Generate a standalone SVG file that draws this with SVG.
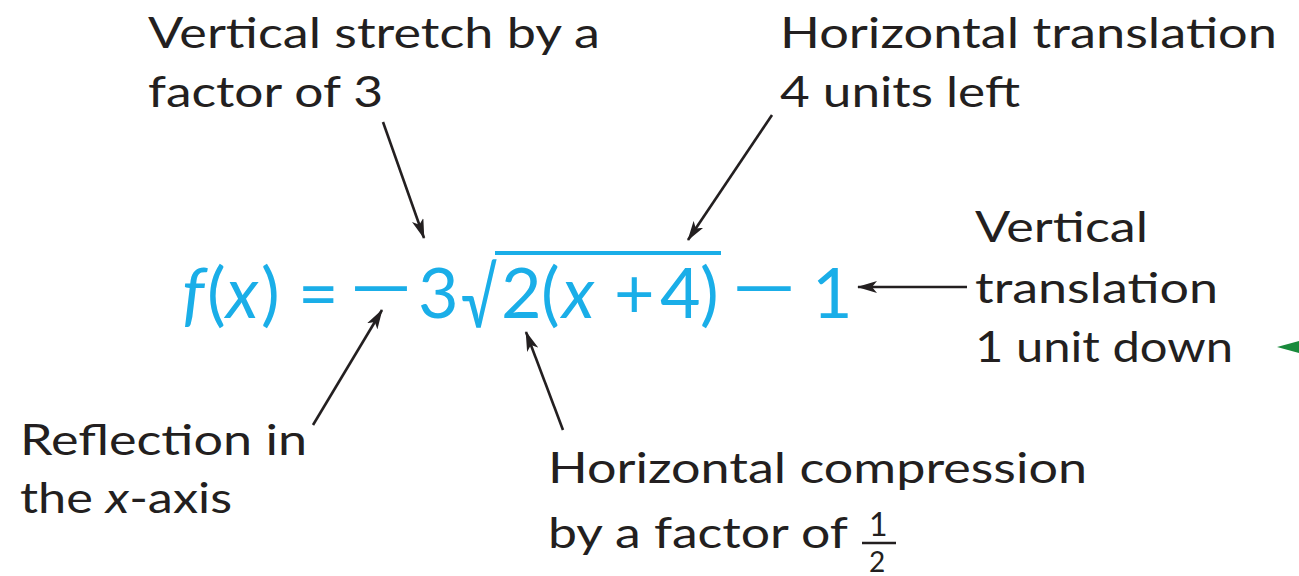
<svg xmlns="http://www.w3.org/2000/svg" width="1299" height="576" viewBox="0 0 1299 576">
<defs>
<style>
.lbl{font-family:Lato,"Open Sans","Liberation Sans",sans-serif;font-size:42px;fill:#231f20}
.eq{font-family:Lato,"Open Sans","Liberation Sans",sans-serif;font-size:70px;fill:#1aaee8}
.it{font-style:italic}
.arr{stroke:#231f20;stroke-width:2.6;fill:none}
</style>
<marker id="ah" viewBox="0 0 20 12" refX="19" refY="6" markerWidth="20" markerHeight="12" markerUnits="userSpaceOnUse" orient="auto">
<path d="M0,0 L20,6 L0,12 L5,6 Z" fill="#231f20"/>
</marker>
</defs>
<rect width="1299" height="576" fill="#ffffff"/>

<g id="equation">
<text class="eq it" x="182" y="318">f</text>
<text class="eq" x="207" y="318">(</text>
<text class="eq it" x="226" y="318">x</text>
<text class="eq" x="261" y="318">)</text>
<text class="eq" x="298" y="318">=</text>
<text class="eq" x="346" y="312" textLength="70" lengthAdjust="spacingAndGlyphs">−</text>
<text class="eq" x="418" y="318">3</text>
<text class="eq" x="461" y="328" textLength="36" lengthAdjust="spacingAndGlyphs" style="font-size:80px">√</text>
<line x1="495" y1="253" x2="721" y2="253" stroke="#1aaee8" stroke-width="4"/>
<text class="eq" x="501" y="318">2</text>
<text class="eq" x="541" y="318">(</text>
<text class="eq it" x="562" y="318">x</text>
<text class="eq" x="614" y="318">+</text>
<text class="eq" x="660" y="318">4</text>
<text class="eq" x="700" y="318">)</text>
<text class="eq" x="728" y="312" textLength="72" lengthAdjust="spacingAndGlyphs">−</text>
<text class="eq" x="812" y="318">1</text>
</g>

<g id="label-vertical-stretch">
<text class="lbl" x="148" y="48" textLength="452" lengthAdjust="spacingAndGlyphs">Vertical stretch by a</text>
<text class="lbl" x="148" y="107" textLength="235" lengthAdjust="spacingAndGlyphs">factor of 3</text>
</g>
<g id="label-horizontal-translation">
<text class="lbl" x="780" y="48" textLength="497" lengthAdjust="spacingAndGlyphs">Horizontal translation</text>
<text class="lbl" x="780" y="107" textLength="240" lengthAdjust="spacingAndGlyphs">4 units left</text>
</g>
<g id="label-vertical-translation">
<text class="lbl" x="975" y="242" textLength="173" lengthAdjust="spacingAndGlyphs">Vertical</text>
<text class="lbl" x="975" y="303" textLength="243" lengthAdjust="spacingAndGlyphs">translation</text>
<text class="lbl" x="975" y="362" textLength="258" lengthAdjust="spacingAndGlyphs">1 unit down</text>
</g>
<g id="label-reflection">
<text class="lbl" x="20" y="455" textLength="287" lengthAdjust="spacingAndGlyphs">Reflection in</text>
<text class="lbl" x="20" y="513" textLength="212" lengthAdjust="spacingAndGlyphs">the <tspan class="it">x</tspan>-axis</text>
</g>
<g id="label-horizontal-compression">
<text class="lbl" x="548" y="483" textLength="539" lengthAdjust="spacingAndGlyphs">Horizontal compression</text>
<text class="lbl" x="548" y="548" textLength="300" lengthAdjust="spacingAndGlyphs">by a factor of</text>
<text class="lbl" x="869" y="536" style="font-size:32px">1</text>
<line x1="862" y1="543" x2="896" y2="543" stroke="#231f20" stroke-width="2.5"/>
<text class="lbl" x="869" y="572" style="font-size:28px">2</text>
</g>

<g id="connectors">
<line class="arr" x1="383" y1="122" x2="424" y2="238" marker-end="url(#ah)"/>
<line class="arr" x1="772" y1="115" x2="688" y2="240" marker-end="url(#ah)"/>
<line class="arr" x1="313" y1="425" x2="382" y2="310" marker-end="url(#ah)"/>
<line class="arr" x1="563" y1="430" x2="526" y2="332" marker-end="url(#ah)"/>
<line class="arr" x1="967" y1="287" x2="858" y2="287" marker-end="url(#ah)"/>
<path d="M1277,347 L1299,341 L1299,353 Z" fill="#1a8a3c"/>
</g>
</svg>
